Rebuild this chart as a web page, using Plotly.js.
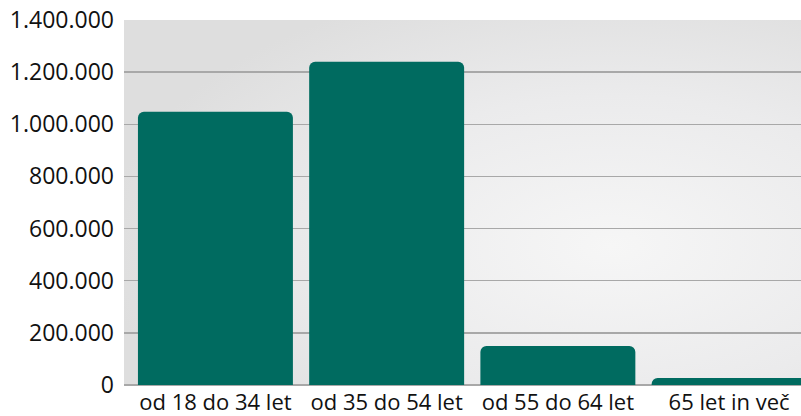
<!DOCTYPE html>
<html><head><meta charset="utf-8">
<script src="https://cdn.plot.ly/plotly-3.0.1.min.js"></script>
<style>html,body{margin:0;padding:0;background:#fff}#c{width:801px;height:416px}</style>
</head><body><div id="c"></div>
<script>
const categories = ["od 18 do 34 let", "od 35 do 54 let", "od 55 do 64 let", "65 let in več"];
const values = [1048000, 1240000, 150000, 27000];
const yTicks = [0, 200000, 400000, 600000, 800000, 1000000, 1200000, 1400000];

const bgSvg = '<svg xmlns="http://www.w3.org/2000/svg" width="677" height="365"><defs><radialGradient id="g" cx="0.72" cy="0.62" r="0.75"><stop offset="0" stop-color="#f6f6f6"/><stop offset="0.55" stop-color="#ebebec"/><stop offset="1" stop-color="#dedede"/></radialGradient></defs><rect width="677" height="365" fill="url(#g)"/></svg>';
const bgUri = 'data:image/svg+xml;base64,' + btoa(bgSvg);

Plotly.newPlot('c', [{
  type: 'bar',
  x: categories,
  y: values,
  width: 0.905,
  marker: {color: '#006b60', cornerradius: 6, line: {width: 0}},
  hoverinfo: 'none'
}], {
  width: 801, height: 416,
  margin: {l: 124, r: 0, t: 20, b: 31},
  paper_bgcolor: '#ffffff',
  plot_bgcolor: 'rgba(0,0,0,0)',
  separators: ',.',
  font: {family: '"Open Sans", "Noto Sans", sans-serif', size: 22, color: '#111'},
  showlegend: false,
  images: [{source: bgUri, xref: 'paper', yref: 'paper', x: 0, y: 1, sizex: 1, sizey: 1, sizing: 'stretch', layer: 'below'}],
  xaxis: {
    type: 'category', range: [-0.534, 3.42], showgrid: false, zeroline: false,
    showline: false, ticks: '', ticklabelstandoff: 2, fixedrange: true,
    tickfont: {size: 22}
  },
  yaxis: {
    range: [0, 1400000], tickvals: yTicks, tickformat: ',d',
    showgrid: true, gridcolor: '#a8a8a8', gridwidth: 1.5,
    zeroline: true, zerolinecolor: '#a8a8a8', zerolinewidth: 1.5,
    showline: false, ticks: '', ticklabelstandoff: 9, fixedrange: true,
    tickfont: {size: 23}
  }
}, {staticPlot: true});
</script></body></html>
